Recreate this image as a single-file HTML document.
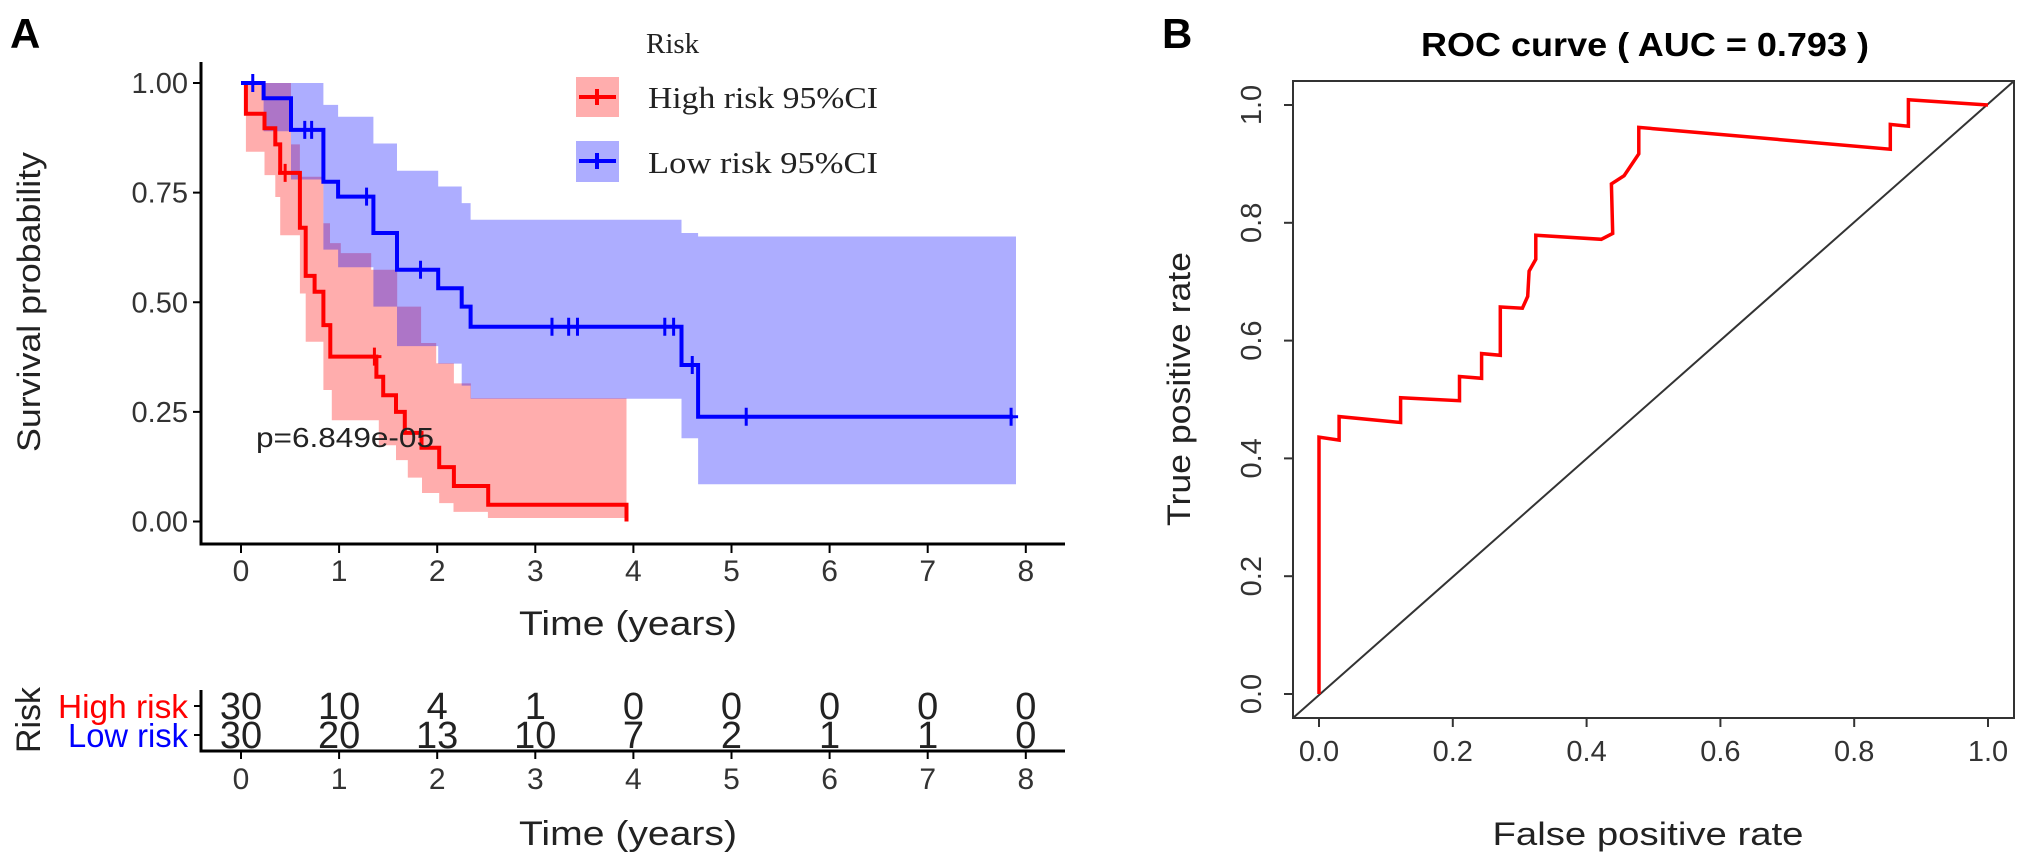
<!DOCTYPE html>
<html><head><meta charset="utf-8"><style>
html,body{margin:0;padding:0;background:#fff;}
svg{display:block;font-family:"Liberation Sans",sans-serif;}
</style></head><body>
<svg id="fig" width="2031" height="868" viewBox="0 0 2031 868">
<g id="km"></g>
<g id="roc"></g>
</svg>
<script>
// ---- Kaplan-Meier data ----
const kmTicks = [0,1,2,3,4,5,6,7,8];
const kmYTicks = [0,0.25,0.5,0.75,1];
const kmYLabels = ["0.00","0.25","0.50","0.75","1.00"];
const highTimes = [0,0.05,0.24,0.35,0.40,0.60,0.66,0.75,0.84,0.91,1.38,1.45,1.58,1.67,1.84,2.02,2.17,2.52,3.93];
const highSurv  = [1,0.93,0.897,0.86,0.795,0.67,0.56,0.524,0.448,0.376,0.33,0.288,0.25,0.202,0.168,0.124,0.081,0.038,0];
const highEnd = 3.93;
const highUpT = [0,0.51,0.60,0.84,0.907,1.017,1.327,1.592,1.836,1.99,2.17,2.344];
const highUpS = [1,0.86,0.786,0.68,0.635,0.612,0.574,0.49,0.407,0.361,0.315,0.281];
const highLoT = [0,0.05,0.24,0.35,0.40,0.60,0.66,0.84,0.926,1.405,1.58,1.70,1.845,2.02,2.166,2.517];
const highLoS = [1,0.843,0.79,0.74,0.653,0.52,0.41,0.30,0.231,0.174,0.14,0.10,0.065,0.042,0.022,0.008];
const highCensT = [0.45,1.36];
const highCensS = [0.795,0.376];
const lowTimes = [0,0.23,0.51,0.84,0.99,1.35,1.59,2.01,2.25,2.34,4.49,4.66];
const lowSurv  = [1,0.965,0.893,0.775,0.741,0.658,0.574,0.532,0.49,0.444,0.357,0.239];
const lowEnd = 7.87;
const lowUpT = [0,0.84,0.99,1.35,1.59,2.01,2.25,2.34,4.49,4.66];
const lowUpS = [1,0.95,0.923,0.862,0.80,0.764,0.726,0.688,0.658,0.65];
const lowLoT = [0,0.23,0.51,0.84,0.99,1.35,1.59,2.01,2.25,2.34,4.49,4.66];
const lowLoS = [1,0.89,0.78,0.62,0.58,0.49,0.40,0.36,0.31,0.28,0.19,0.085];
const lowBandEnd = 7.9;
const lowCensT = [0.12,0.65,0.72,1.28,1.83,3.17,3.34,3.43,4.32,4.41,4.6,5.15,7.85];
const lowCensS = [1,0.893,0.893,0.741,0.574,0.444,0.444,0.444,0.444,0.444,0.357,0.239,0.239];
const riskHigh = [30,10,4,1,0,0,0,0,0];
const riskLow  = [30,20,13,10,7,2,1,1,0];
// ---- ROC data ----
const fpr = [0,0,0.03,0.03,0.122,0.122,0.21,0.21,0.243,0.243,0.271,0.271,0.304,0.312,0.314,0.324,0.324,0.422,0.439,0.437,0.456,0.478,0.478,0.854,0.854,0.881,0.881,1.0];
const tpr = [0,0.436,0.431,0.471,0.461,0.503,0.498,0.539,0.536,0.578,0.575,0.657,0.655,0.675,0.718,0.738,0.779,0.772,0.782,0.866,0.880,0.917,0.962,0.925,0.967,0.964,1.009,1.0];
const rocTicks = [0,0.2,0.4,0.6,0.8,1.0];
const rocLabels = ["0.0","0.2","0.4","0.6","0.8","1.0"];

const NS="http://www.w3.org/2000/svg";
function mk(parent,tag,attrs,text){const e=document.createElementNS(NS,tag);for(const k in attrs)e.setAttribute(k,attrs[k]);if(text!==undefined)e.textContent=text;parent.appendChild(e);return e;}
const X = t => 241 + t*98.1;
const Y = s => 521.5 - s*438.5;
const km = document.getElementById('km');

function stepPts(ts, ss, tEnd){
  const p=[];
  for(let i=0;i<ts.length;i++){
    if(i>0) p.push([X(ts[i]),Y(ss[i-1])]);
    p.push([X(ts[i]),Y(ss[i])]);
  }
  p.push([X(tEnd),Y(ss[ss.length-1])]);
  return p;
}
function band(upT,upS,loT,loS,tEnd,color,name){
  const u=stepPts(upT,upS,tEnd), l=stepPts(loT,loS,tEnd).reverse();
  const pts=u.concat(l).map(p=>p[0].toFixed(1)+","+p[1].toFixed(1)).join(" ");
  const e=mk(km,'polygon',{points:pts,fill:color,'fill-opacity':0.32,stroke:'none'});
  
  
}
band(highUpT,highUpS,highLoT,highLoS,highEnd,'#ff0000','high-risk-ci-band');
band(lowUpT,lowUpS,lowLoT,lowLoS,lowBandEnd,'#0000ff','low-risk-ci-band');

function curve(ts,ss,tEnd,color,name){
  const p=stepPts(ts,ss,tEnd);
  const e=mk(km,'polyline',{points:p.map(q=>q[0].toFixed(1)+","+q[1].toFixed(1)).join(" "),fill:'none',stroke:color,'stroke-width':4});
  
  
}
curve(highTimes,highSurv,highEnd,'#ff0000','high-risk-curve');
curve(lowTimes,lowSurv,lowEnd,'#0000ff','low-risk-curve');
function cens(ts,ss,color,name){
  for(let i=0;i<ts.length;i++){
    const e=mk(km,'path',{d:`M${X(ts[i])},${Y(ss[i])-9}v18M${X(ts[i])-7},${Y(ss[i])}h14`,stroke:color,'stroke-width':3,fill:'none'});
    
    
  }
}
cens(highCensT,highCensS,'#ff0000','high-risk-censor');
cens(lowCensT,lowCensS,'#0000ff','low-risk-censor');

// axes
mk(km,'path',{d:'M201,62V544H1065',stroke:'#000','stroke-width':3,fill:'none'});
kmYTicks.forEach((v,i)=>{
  mk(km,'line',{x1:193,x2:201,y1:Y(v),y2:Y(v),stroke:'#000','stroke-width':2});
  const t=mk(km,'text',{x:188,y:Y(v)+10,'text-anchor':'end','font-size':29,fill:'#333'},kmYLabels[i]);
  
  
});
kmTicks.forEach(v=>{
  mk(km,'line',{x1:X(v),x2:X(v),y1:544,y2:553,stroke:'#000','stroke-width':2});
  const t=mk(km,'text',{x:X(v),y:581,'text-anchor':'middle','font-size':30,fill:'#333'},String(v));
  
  
});
</script>
<script>
function txt(parent,attrs,s,name){const e=mk(parent,'text',attrs,s);return e;}
txt(km,{x:10,y:48,'font-size':42,'font-weight':'bold'},'A','panel-label-a');
txt(km,{x:0,y:0,'font-size':32,fill:'#222','text-anchor':'middle',transform:'translate(40,302) rotate(-90)',textLength:300,lengthAdjust:'spacingAndGlyphs'},'Survival probability','y-axis-title');
txt(km,{x:628,y:635,'font-size':34,fill:'#222','text-anchor':'middle',textLength:218,lengthAdjust:'spacingAndGlyphs'},'Time (years)','x-axis-title');
txt(km,{x:256,y:447,'font-size':28,fill:'#222',textLength:178,lengthAdjust:'spacingAndGlyphs'},'p=6.849e-05','p-value');
// legend
const lg=mk(km,'g',{});


txt(lg,{x:646,y:53,'font-size':29,'font-family':'Liberation Serif, serif',fill:'#222'},'Risk','legend-title');
mk(lg,'rect',{x:576,y:77,width:43,height:40,fill:'#ff0000','fill-opacity':0.32});
mk(lg,'path',{d:'M579,97h37M597,89v16',stroke:'#ff0000','stroke-width':4});
mk(lg,'rect',{x:576,y:141,width:43,height:41,fill:'#0000ff','fill-opacity':0.32});
mk(lg,'path',{d:'M579,161h37M597,153v16',stroke:'#0000ff','stroke-width':4});
txt(lg,{x:648,y:108,'font-size':31,'font-family':'Liberation Serif, serif',fill:'#222',textLength:230,lengthAdjust:'spacingAndGlyphs'},'High risk 95%CI','legend-high-risk');
txt(lg,{x:648,y:173,'font-size':31,'font-family':'Liberation Serif, serif',fill:'#222',textLength:230,lengthAdjust:'spacingAndGlyphs'},'Low risk  95%CI','legend-low-risk');
// risk table
mk(km,'path',{d:'M201,690V751H1065',stroke:'#000','stroke-width':3,fill:'none'});
mk(km,'path',{d:'M194,706h7M194,735h7',stroke:'#000','stroke-width':2});
txt(km,{x:188,y:718,'font-size':33,fill:'#ff0000','text-anchor':'end',textLength:130,lengthAdjust:'spacingAndGlyphs'},'High risk','risk-row-high-label');
txt(km,{x:188,y:747,'font-size':33,fill:'#0000ff','text-anchor':'end',textLength:120,lengthAdjust:'spacingAndGlyphs'},'Low risk','risk-row-low-label');
txt(km,{x:0,y:0,'font-size':34,fill:'#222','text-anchor':'middle',transform:'translate(40,720) rotate(-90)'},'Risk','risk-table-title');
kmTicks.forEach((v,i)=>{
  txt(km,{x:X(v),y:719,'font-size':38,fill:'#222','text-anchor':'middle'},String(riskHigh[i]),'risk-count-high');
  txt(km,{x:X(v),y:748,'font-size':38,fill:'#222','text-anchor':'middle'},String(riskLow[i]),'risk-count-low');
  mk(km,'line',{x1:X(v),x2:X(v),y1:751,y2:759,stroke:'#000','stroke-width':2});
  txt(km,{x:X(v),y:789,'font-size':30,fill:'#333','text-anchor':'middle'},String(v),'risk-x-tick-label');
});
txt(km,{x:628,y:845,'font-size':34,fill:'#222','text-anchor':'middle',textLength:218,lengthAdjust:'spacingAndGlyphs'},'Time (years)','risk-x-axis-title');

// ---- ROC ----
const roc=document.getElementById('roc');
const FX=f=>1319+f*669, FY=v=>694-v*589;
txt(roc,{x:1162,y:48,'font-size':42,'font-weight':'bold'},'B','panel-label-b');
txt(roc,{x:1645,y:56,'font-size':33,'font-weight':'bold','text-anchor':'middle',textLength:448,lengthAdjust:'spacingAndGlyphs'},'ROC curve ( AUC = 0.793 )','roc-title');
mk(roc,'rect',{x:1293,y:81,width:721,height:637,fill:'none',stroke:'#333','stroke-width':2});
const dg=mk(roc,'line',{x1:1293,y1:718,x2:2014,y2:81,stroke:'#333','stroke-width':2});


rocTicks.forEach((v,i)=>{
  mk(roc,'line',{x1:FX(v),x2:FX(v),y1:718,y2:727,stroke:'#333','stroke-width':2});
  txt(roc,{x:FX(v),y:761,'font-size':29,fill:'#333','text-anchor':'middle'},rocLabels[i],'roc-x-tick-label');
  mk(roc,'line',{x1:1284,x2:1293,y1:FY(v),y2:FY(v),stroke:'#333','stroke-width':2});
  txt(roc,{x:0,y:0,'font-size':29,fill:'#333','text-anchor':'middle',transform:`translate(1261,${FY(v)}) rotate(-90)`},rocLabels[i],'roc-y-tick-label');
});
txt(roc,{x:1648,y:845,'font-size':32,fill:'#222','text-anchor':'middle',textLength:311,lengthAdjust:'spacingAndGlyphs'},'False positive rate','roc-x-axis-title');
txt(roc,{x:0,y:0,'font-size':32,fill:'#222','text-anchor':'middle',transform:'translate(1190,389) rotate(-90)',textLength:274,lengthAdjust:'spacingAndGlyphs'},'True positive rate','roc-y-axis-title');
const rl=mk(roc,'polyline',{points:fpr.map((f,i)=>FX(f).toFixed(1)+','+FY(tpr[i]).toFixed(1)).join(' '),fill:'none',stroke:'#ff0000','stroke-width':3.5});


</script>
</body></html>
